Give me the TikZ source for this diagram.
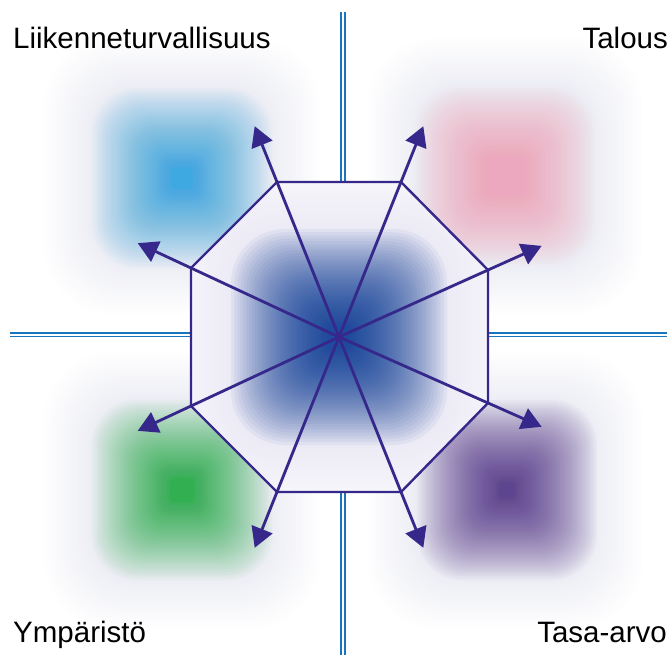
\documentclass[tikz,border=0pt]{standalone}
\usepackage{fontspec}
\setmainfont{Liberation Sans}
\usetikzlibrary{arrows.meta,calc}
\definecolor{ink}{HTML}{35288A}
\definecolor{axisblue}{HTML}{1B75BC}
\definecolor{cblue}{HTML}{3AA8E0}
\definecolor{cpink}{HTML}{F4A8BE}
\definecolor{cgreen}{HTML}{2DB04F}
\definecolor{cpurple}{HTML}{5B3D8F}
\definecolor{ccenter}{HTML}{1E4A9E}
\definecolor{halo}{HTML}{EBECF3}
\definecolor{lav}{HTML}{EAE8F4}
% soft square drawn with translucent layers
\newcommand\glowsq[8]{%
  \foreach \k in {0,...,#8}{%
    \pgfmathsetmacro\s{#4+(#5-#4)*(\k/#8)^#7}%
    \pgfmathsetmacro\rr{0.5*\s}%
    \fill[#3,fill opacity=#6,rounded corners=\rr pt] (#1-\s,#2-\s) rectangle (#1+\s,#2+\s);
  }}
% soft halo drawn with opaque layers, white outside to colour inside
\newcommand\haloop[6]{%
  \foreach \k in {0,...,#6}{%
    \pgfmathsetmacro\s{#4-(#4-#5)*\k/#6}%
    \pgfmathtruncatemacro\t{100*\k/#6}%
    \pgfmathsetmacro\rr{0.5*\s}%
    \fill[#3!\t!white,rounded corners=\rr pt] (#1-\s,#2-\s) rectangle (#1+\s,#2+\s);
  }}
\begin{document}
\begin{tikzpicture}[x=1pt,y=-1pt,
  rim/.style={ink,line width=2.4pt},
  arr/.style={ink,line width=2.8pt,-{Triangle[length=20pt,width=22pt]}},
  axis/.style={axisblue,line width=1.8pt,double=white,double distance=2pt},
  lab/.style={font=\fontsize{29.5}{35}\selectfont,inner sep=0pt}]
\fill[white] (0,0) rectangle (672,654);
\useasboundingbox (0,0) rectangle (672,654);
% quadrant glows
\haloop{182}{176}{halo}{140}{85}{25}
\haloop{505}{176}{halo}{140}{85}{25}
\haloop{182}{490}{halo}{140}{85}{25}
\haloop{505}{490}{halo}{140}{85}{25}
\glowsq{182}{178}{cblue}{10}{90}{0.04}{2}{60}
\glowsq{505}{176}{cpink}{12}{90}{0.045}{2}{60}
\glowsq{182}{490}{cgreen}{12}{90}{0.04}{2}{60}
\glowsq{507}{490}{cpurple}{8}{90}{0.035}{1.5}{60}
% geometry
\coordinate (C) at (339,337);
\coordinate (V1) at (277,182);
\coordinate (V2) at (401,182);
\coordinate (V3) at (488,270);
\coordinate (V4) at (488,403);
\coordinate (V5) at (401,492);
\coordinate (V6) at (277,492);
\coordinate (V7) at (191,406);
\coordinate (V8) at (191,268);
% axes
\coordinate (AT) at (343,12);
\coordinate (AB) at (343,656);
\coordinate (AL) at (10,334.5);
\coordinate (AR) at (667,334.5);
\draw[axis] (AT) -- (AT |- V1);
\draw[axis] (AB) -- (AB |- V5);
\draw[axis] (AL) -- (AL -| V8);
\draw[axis] (AR) -- (AR -| V3);
% octagon
\fill[white] (V1)--(V2)--(V3)--(V4)--(V5)--(V6)--(V7)--(V8)--cycle;
\begin{scope}
  \clip (V1)--(V2)--(V3)--(V4)--(V5)--(V6)--(V7)--(V8)--cycle;
  \haloop{339}{337}{lav}{200}{100}{30}
  \glowsq{339}{337}{ccenter}{6}{108}{0.055}{2.2}{70}
\end{scope}
\draw[rim] (V1)--(V2)--(V3)--(V4)--(V5)--(V6)--(V7)--(V8)--cycle;
% spokes with arrows
\foreach \i in {1,...,8}{
  \coordinate (T\i) at ($(C)!1.36!(V\i)$);
  \draw[arr] (C) -- (T\i);
}
% labels
\node[lab,anchor=base west] (l1) at (13,48) {Liikenneturvallisuus};
\node[lab,anchor=base east] (l2) at (668,48) {Talous};
\node[lab,anchor=base west] (l3) at (13,642) {Ympäristö};
\node[lab,anchor=base east] (l4) at (667,642) {Tasa-arvo};
\end{tikzpicture}
\end{document}
